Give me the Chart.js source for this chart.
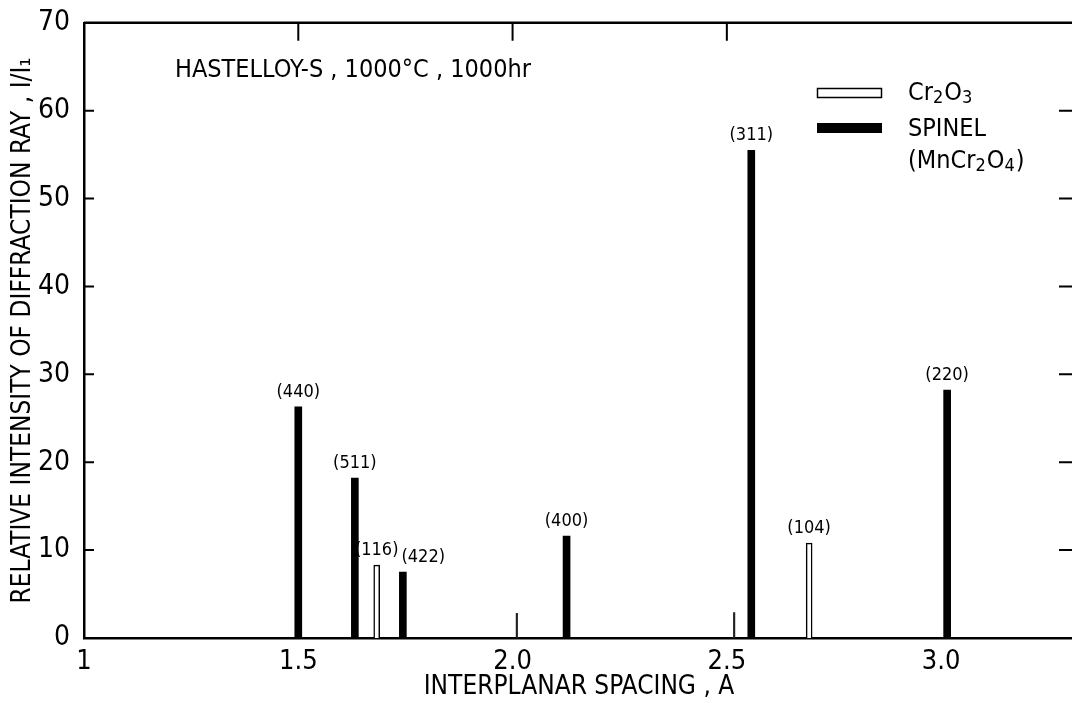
<!DOCTYPE html>
<html>
<head>
<meta charset="utf-8">
<script src="https://cdn.jsdelivr.net/npm/chart.js@4.4.1/dist/chart.umd.min.js"></script>
<style>
  html, body { margin: 0; padding: 0; overflow: hidden; background: #fff; }
  .chart-wrap { position: relative; width: 1074px; height: 703px; }
</style>
</head>
<body>
<div class="chart-wrap"><canvas id="xrdChart"></canvas></div>
<script>
// Interplanar spacing (A) and relative intensity
const spinelD = [1.50, 1.632, 1.744, 2.126, 2.557, 3.014];
const spinelI = [26.3, 18.2, 7.5, 11.6, 55.5, 28.2];
const spinelHkl = ['(440)', '(511)', '(422)', '(400)', '(311)', '(220)'];

const cr2o3D = [1.683, 2.692];
const cr2o3I = [8.3, 10.8];
const cr2o3Hkl = ['(116)', '(104)'];

// weak unlabelled lines
const minorD = [2.01, 2.517];
const minorI = [2.8, 2.9];

const xTicks = [1, 1.5, 2.0, 2.5, 3.0];
const xTickLabels = ['1', '1.5', '2.0', '2.5', '3.0'];
const topTicks = [1.5, 2.0, 2.5];
const yTicks = [0, 10, 20, 30, 40, 50, 60, 70];

const FONT = '"Liberation Sans Narrow", "DejaVu Sans Condensed", "Arial Narrow", sans-serif';

function toPoints(xs, ys) {
  return xs.map((x, i) => ({ x: x, y: ys[i] }));
}

// draw text with subscripts, parts starting with '_' are lowered
function drawRich(ctx, parts, x, y, size) {
  let cx = x;
  parts.forEach(p => {
    const sub = p[0] === '_';
    const t = sub ? p.slice(1) : p;
    ctx.font = (sub ? Math.round(size * 0.7) : size) + 'px ' + FONT;
    ctx.fillText(t, cx, sub ? y + size * 0.22 : y);
    cx += ctx.measureText(t).width + (sub ? 1 : 0);
  });
}

// frame: top + right border and inward tick marks
const framePlugin = {
  id: 'frame',
  afterDraw(chart) {
    const { ctx, chartArea: a, scales: { x, y } } = chart;
    ctx.save();
    ctx.strokeStyle = '#000';
    ctx.lineWidth = 2.5;
    ctx.beginPath();
    ctx.moveTo(a.left, a.top);
    ctx.lineTo(a.right, a.top);
    ctx.lineTo(a.right, a.bottom);
    ctx.stroke();

    ctx.lineWidth = 2;
    ctx.beginPath();
    yTicks.slice(1, -1).forEach(v => {
      const py = y.getPixelForValue(v);
      ctx.moveTo(a.left, py);
      ctx.lineTo(a.left + 10, py);
      ctx.moveTo(a.right - 15, py);
      ctx.lineTo(a.right, py);
    });
    topTicks.forEach(v => {
      const px = x.getPixelForValue(v);
      ctx.moveTo(px, a.top);
      ctx.lineTo(px, a.top + 18);
    });
    ctx.stroke();
    ctx.restore();
  }
};

// (hkl) labels above the bars, nudged right when they would collide
const hklPlugin = {
  id: 'hkl',
  afterDatasetsDraw(chart) {
    const { ctx } = chart;
    const items = [];
    chart.data.datasets.forEach((ds, di) => {
      if (!ds.hkl) return;
      chart.getDatasetMeta(di).data.forEach((bar, i) => {
        items.push({ x: bar.x, y: bar.y, text: ds.hkl[i] });
      });
    });
    items.sort((a, b) => a.x - b.x);
    ctx.save();
    ctx.font = '18px ' + FONT;
    ctx.fillStyle = '#000';
    ctx.textBaseline = 'middle';
    ctx.textAlign = 'left';
    const placed = [];
    items.forEach(it => {
      const w = ctx.measureText(it.text).width;
      const cy = it.y - 15;
      let left = it.x - w / 2;
      placed.forEach(p => {
        if (Math.abs(p.cy - cy) < 18 && left < p.right + 3) left = p.right + 3;
      });
      ctx.fillText(it.text, left, cy);
      placed.push({ cy: cy, right: left + w });
    });
    ctx.restore();
  }
};

// legend and sample note
const notesPlugin = {
  id: 'notes',
  afterDraw(chart) {
    const { ctx } = chart;
    ctx.save();
    ctx.fillStyle = '#000';
    ctx.strokeStyle = '#000';
    ctx.textBaseline = 'middle';
    ctx.textAlign = 'left';

    ctx.font = '25px ' + FONT;
    ctx.fillText('HASTELLOY-S , 1000°C , 1000hr', 175, 70);

    ctx.lineWidth = 1.5;
    ctx.strokeRect(817.5, 88.5, 64, 9);
    ctx.fillRect(817, 123, 65, 10);

    drawRich(ctx, ['Cr', '_2', 'O', '_3'], 908, 93, 25);
    drawRich(ctx, ['SPINEL'], 908, 129, 25);
    drawRich(ctx, ['(MnCr', '_2', 'O', '_4', ')'], 908, 161, 25);
    ctx.restore();
  }
};

const ctx = document.getElementById('xrdChart');

new Chart(ctx, {
  type: 'bar',
  data: {
    datasets: [
      {
        label: 'SPINEL (MnCr2O4)',
        data: toPoints(spinelD, spinelI),
        hkl: spinelHkl,
        backgroundColor: '#000',
        borderWidth: 0,
        barThickness: 7,
        grouped: false
      },
      {
        label: 'Cr2O3',
        data: toPoints(cr2o3D, cr2o3I),
        hkl: cr2o3Hkl,
        backgroundColor: '#fff',
        borderColor: '#000',
        borderWidth: 1.5,
        barThickness: 6,
        grouped: false
      },
      {
        label: 'weak',
        data: toPoints(minorD, minorI),
        backgroundColor: '#222',
        borderWidth: 0,
        barThickness: 1.5,
        grouped: false
      }
    ]
  },
  options: {
    responsive: true,
    maintainAspectRatio: false,
    animation: false,
    layout: { padding: { top: 20, left: 0, right: 0, bottom: 0 } },
    plugins: {
      legend: { display: false },
      tooltip: { enabled: false }
    },
    scales: {
      x: {
        type: 'linear',
        min: 1,
        max: 3.31,
        offset: false,
        afterBuildTicks: s => { s.ticks = xTicks.map(v => ({ value: v })); },
        afterFit: s => { s.height = 65; },
        grid: { display: false },
        border: { display: true, color: '#000', width: 2.5 },
        ticks: {
          color: '#000',
          font: { family: FONT, size: 27 },
          padding: 0,
          maxRotation: 0,
          autoSkip: false,
          callback: (v, i) => xTickLabels[i]
        },
        title: {
          display: true,
          text: 'INTERPLANAR SPACING , A',
          color: '#000',
          font: { family: FONT, size: 26 },
          padding: { top: 0, bottom: 0 }
        }
      },
      y: {
        type: 'linear',
        min: 0,
        max: 70,
        afterBuildTicks: s => { s.ticks = yTicks.map(v => ({ value: v })); },
        afterFit: s => { s.width = 84; },
        grid: { display: false },
        border: { display: true, color: '#000', width: 2.5 },
        ticks: {
          color: '#000',
          font: { family: FONT, size: 28 },
          padding: 6
        },
        title: {
          display: true,
          text: 'RELATIVE INTENSITY OF DIFFRACTION RAY , I/I₁',
          color: '#000',
          font: { family: FONT, size: 26 },
          padding: { top: 8, bottom: 0 }
        }
      }
    }
  },
  plugins: [framePlugin, hklPlugin, notesPlugin]
});
</script>
</body>
</html>
